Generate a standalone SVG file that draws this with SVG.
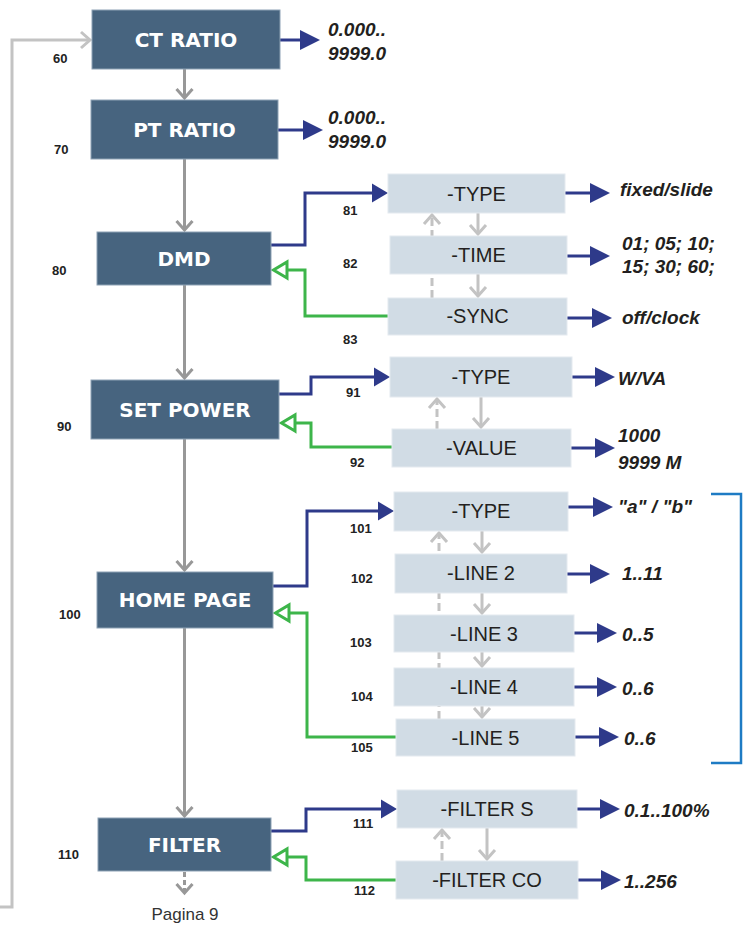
<svg xmlns="http://www.w3.org/2000/svg" width="743" height="925" viewBox="0 0 743 925">
<style>
.hdr{fill:#47647f;stroke:#8ea2b5;stroke-width:1}
.sub{fill:#d1dce5;stroke:#e4eaef;stroke-width:1}
.ht{font-family:"DejaVu Sans",Verdana,sans-serif;font-weight:bold;font-size:20px;fill:#ffffff;text-anchor:middle}
.st{font-family:"Liberation Sans",Arial,sans-serif;font-size:20px;fill:#231f20;text-anchor:middle}
.lbl{font-family:"Liberation Sans",Arial,sans-serif;font-weight:bold;font-size:13px;fill:#222222}
.val{font-family:"Liberation Sans",Arial,sans-serif;font-weight:bold;font-style:italic;font-size:19px;fill:#231f20}
.main{fill:none;stroke:#989898;stroke-width:3}
.light{fill:none;stroke:#c3c3c3;stroke-width:3}
.dash{fill:none;stroke:#c3c3c3;stroke-width:3;stroke-dasharray:8 4}
.mdash{fill:none;stroke:#989898;stroke-width:3;stroke-dasharray:5 3}
.blue{fill:none;stroke:#2e3a8a;stroke-width:3}
.green{fill:none;stroke:#3db54a;stroke-width:3}
</style>
<defs>
<marker id="tri" markerUnits="userSpaceOnUse" markerWidth="20" markerHeight="20" refX="0" refY="10" orient="auto" overflow="visible"><path d="M0,0 L20,10 L0,20 z" fill="#2e3a8a"/></marker>
<marker id="triIn" markerUnits="userSpaceOnUse" markerWidth="16" markerHeight="19" refX="0" refY="9.5" orient="auto" overflow="visible"><path d="M0,0 L16,9.5 L0,19 z" fill="#2e3a8a"/></marker>
<marker id="open" markerUnits="userSpaceOnUse" markerWidth="16" markerHeight="18" refX="0" refY="8.5" orient="auto" overflow="visible"><path d="M0,0.5 L13.5,8.5 L0,16.5 z" fill="#ffffff" stroke="#3db54a" stroke-width="3"/></marker>
<marker id="chev" markerUnits="userSpaceOnUse" markerWidth="10" markerHeight="18" refX="0" refY="0" orient="auto" overflow="visible"><path d="M-9,-8 L0,0 L-9,8" fill="none" stroke="#989898" stroke-width="3"/></marker>
<marker id="chevL" markerUnits="userSpaceOnUse" markerWidth="10" markerHeight="18" refX="0" refY="0" orient="auto" overflow="visible"><path d="M-9,-8 L0,0 L-9,8" fill="none" stroke="#c3c3c3" stroke-width="3"/></marker>
</defs>
<rect x="0" y="0" width="743" height="925" fill="#ffffff"/>

<g id="connectors">
<!-- loop -->
<path class="light" d="M0,907 H12 V40 H90" marker-end="url(#chevL)"/>
<!-- main chain -->
<path class="main" d="M184.5,69 V98" marker-end="url(#chev)"/>
<path class="main" d="M184.5,159 V230" marker-end="url(#chev)"/>
<path class="main" d="M184.5,285 V378" marker-end="url(#chev)"/>
<path class="main" d="M184.5,439 V570" marker-end="url(#chev)"/>
<path class="main" d="M184.5,628 V816" marker-end="url(#chev)"/>
<path class="mdash" d="M184.5,872 V893" marker-end="url(#chev)"/>
<!-- outputs -->
<path class="blue" d="M280,40 H300" marker-end="url(#tri)"/>
<path class="blue" d="M278,130 H303" marker-end="url(#tri)"/>
<!-- DMD -->
<path class="blue" d="M271,245 H305 V193 H372" marker-end="url(#triIn)"/>
<path class="green" d="M388,316 H305 V270 H287" marker-end="url(#open)"/>
<path class="light" d="M478,213 V234" marker-end="url(#chevL)"/>
<path class="light" d="M478,274 V296" marker-end="url(#chevL)"/>
<path class="dash" d="M432,298 V215" marker-end="url(#chevL)"/>
<path class="blue" d="M565,193 H590" marker-end="url(#tri)"/>
<path class="blue" d="M567,256 H590" marker-end="url(#tri)"/>
<path class="blue" d="M567,318 H592" marker-end="url(#tri)"/>
<!-- SET POWER -->
<path class="blue" d="M279,394 H311 V377 H374" marker-end="url(#triIn)"/>
<path class="green" d="M392,447 H311 V423 H295" marker-end="url(#open)"/>
<path class="light" d="M481,397 V427" marker-end="url(#chevL)"/>
<path class="dash" d="M437,429 V399" marker-end="url(#chevL)"/>
<path class="blue" d="M572,377 H595" marker-end="url(#tri)"/>
<path class="blue" d="M571,448 H595" marker-end="url(#tri)"/>
<!-- HOME PAGE -->
<path class="blue" d="M273,586 H307 V511 H378" marker-end="url(#triIn)"/>
<path class="green" d="M396,737 H307 V613 H289" marker-end="url(#open)"/>
<path class="light" d="M482,531 V552" marker-end="url(#chevL)"/>
<path class="light" d="M482,593 V613" marker-end="url(#chevL)"/>
<path class="light" d="M482,652 V666" marker-end="url(#chevL)"/>
<path class="light" d="M482,706 V717" marker-end="url(#chevL)"/>
<path class="dash" d="M439,719 V533" marker-end="url(#chevL)"/>
<path class="blue" d="M568,507 H593" marker-end="url(#tri)"/>
<path class="blue" d="M567,574 H590" marker-end="url(#tri)"/>
<path class="blue" d="M574,633 H597" marker-end="url(#tri)"/>
<path class="blue" d="M574,687 H597" marker-end="url(#tri)"/>
<path class="blue" d="M575,737 H599" marker-end="url(#tri)"/>
<!-- FILTER -->
<path class="blue" d="M271,831 H306 V809 H381" marker-end="url(#triIn)"/>
<path class="green" d="M396,880 H306 V857 H287" marker-end="url(#open)"/>
<path class="light" d="M487,828 V859" marker-end="url(#chevL)"/>
<path class="dash" d="M442,861 V830" marker-end="url(#chevL)"/>
<path class="blue" d="M577,809 H600" marker-end="url(#tri)"/>
<path class="blue" d="M578,880 H601" marker-end="url(#tri)"/>
<!-- bracket -->
<path d="M711,494 H741 V763 H711" fill="none" stroke="#1e7bc4" stroke-width="2.5"/>
</g>

<g id="ct-ratio"><rect class="hdr" x="92" y="10" width="188" height="59"/><text class="ht" x="186" y="47">CT RATIO</text></g>
<g id="pt-ratio"><rect class="hdr" x="91" y="100" width="187" height="59"/><text class="ht" x="184.5" y="137">PT RATIO</text></g>
<g id="dmd"><rect class="hdr" x="97" y="232" width="174" height="53"/><text class="ht" x="184" y="266">DMD</text></g>
<g id="set-power"><rect class="hdr" x="91" y="380" width="188" height="59"/><text class="ht" x="185" y="417">SET POWER</text></g>
<g id="home-page"><rect class="hdr" x="97" y="572" width="176" height="56"/><text class="ht" x="185" y="607">HOME PAGE</text></g>
<g id="filter"><rect class="hdr" x="98" y="818" width="173" height="53"/><text class="ht" x="184.5" y="852">FILTER</text></g>

<g id="dmd-type"><rect class="sub" x="388" y="174" width="177" height="39"/><text class="st" x="476.5" y="200.5">-TYPE</text></g>
<g id="dmd-time"><rect class="sub" x="390" y="236" width="177" height="38"/><text class="st" x="478.5" y="262">-TIME</text></g>
<g id="dmd-sync"><rect class="sub" x="388" y="298" width="179" height="37"/><text class="st" x="477.5" y="323">-SYNC</text></g>
<g id="sp-type"><rect class="sub" x="390" y="357" width="182" height="40"/><text class="st" x="481" y="384">-TYPE</text></g>
<g id="sp-value"><rect class="sub" x="392" y="429" width="179" height="38"/><text class="st" x="481.5" y="455">-VALUE</text></g>
<g id="hp-type"><rect class="sub" x="394" y="492" width="174" height="39"/><text class="st" x="481" y="518">-TYPE</text></g>
<g id="hp-line2"><rect class="sub" x="395" y="554" width="172" height="39"/><text class="st" x="481" y="580">-LINE 2</text></g>
<g id="hp-line3"><rect class="sub" x="394" y="615" width="180" height="37"/><text class="st" x="484" y="640.5">-LINE 3</text></g>
<g id="hp-line4"><rect class="sub" x="394" y="668" width="180" height="38"/><text class="st" x="484" y="694">-LINE 4</text></g>
<g id="hp-line5"><rect class="sub" x="396" y="719" width="179" height="37"/><text class="st" x="485.5" y="744.5">-LINE 5</text></g>
<g id="filter-s"><rect class="sub" x="397" y="790" width="180" height="38"/><text class="st" x="487" y="816">-FILTER S</text></g>
<g id="filter-co"><rect class="sub" x="396" y="861" width="182" height="38"/><text class="st" x="487" y="887">-FILTER CO</text></g>

<g id="values">
<text class="val" x="328" y="36">0.000..</text>
<text class="val" x="328" y="60">9999.0</text>
<text class="val" x="328" y="124">0.000..</text>
<text class="val" x="328" y="148">9999.0</text>
<text class="val" x="620" y="196">fixed/slide</text>
<text class="val" x="622" y="250">01; 05; 10;</text>
<text class="val" x="622" y="273">15; 30; 60;</text>
<text class="val" x="622" y="324">off/clock</text>
<text class="val" x="618" y="385">W/VA</text>
<text class="val" x="618" y="442">1000</text>
<text class="val" x="618" y="469">9999 M</text>
<text class="val" x="618" y="513">"a" / "b"</text>
<text class="val" x="622" y="580">1..11</text>
<text class="val" x="622" y="641">0..5</text>
<text class="val" x="622" y="695">0..6</text>
<text class="val" x="624" y="745">0..6</text>
<text class="val" x="624" y="817">0.1..100%</text>
<text class="val" x="624" y="888">1..256</text>
</g>

<g id="labels">
<text class="lbl" x="53" y="63">60</text>
<text class="lbl" x="54" y="154">70</text>
<text class="lbl" x="52" y="275">80</text>
<text class="lbl" x="57" y="431">90</text>
<text class="lbl" x="59" y="619">100</text>
<text class="lbl" x="58" y="859">110</text>
<text class="lbl" x="343" y="215">81</text>
<text class="lbl" x="343" y="268">82</text>
<text class="lbl" x="343" y="344">83</text>
<text class="lbl" x="346" y="397">91</text>
<text class="lbl" x="350" y="467">92</text>
<text class="lbl" x="350" y="533">101</text>
<text class="lbl" x="351" y="583">102</text>
<text class="lbl" x="350" y="647">103</text>
<text class="lbl" x="351" y="701">104</text>
<text class="lbl" x="351" y="752">105</text>
<text class="lbl" x="353" y="828">111</text>
<text class="lbl" x="354" y="895">112</text>
</g>

<text id="pagina" x="185" y="920" font-family="Liberation Sans, Arial, sans-serif" font-size="17" fill="#333333" text-anchor="middle">Pagina 9</text>
</svg>
